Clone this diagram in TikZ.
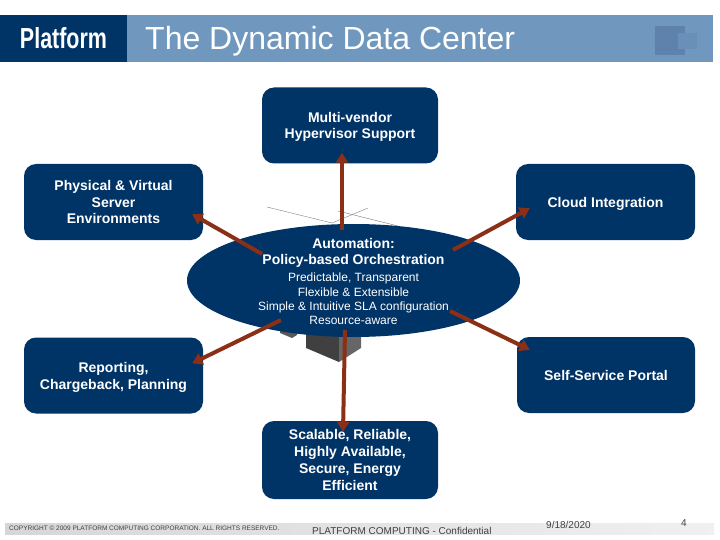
\documentclass[tikz,border=0pt]{standalone}
\usepackage{fontspec}
\setmainfont{Liberation Sans}
\usetikzlibrary{shapes.geometric, arrows.meta, positioning, calc}
\definecolor{platnavy}{HTML}{003366}
\definecolor{platbar}{HTML}{7098BE}
\definecolor{platarrow}{HTML}{8B3016}
\definecolor{platsquare}{HTML}{5E82AC}
\definecolor{platchip}{HTML}{6A90BA}
\newcommand{\nudge}[1]{\rule{0pt}{#1}}
\begin{document}
\begin{tikzpicture}[
    x=1pt, y=-1pt,
    feature/.style={rectangle, rounded corners=12pt, minimum width=179pt, minimum height=76pt, align=center, fill=platnavy, text=white, font=\fontsize{14}{16.7}\selectfont\bfseries},
    hub/.style={ellipse, minimum width=333pt, minimum height=113pt, inner sep=0pt, align=center, fill=platnavy, text=white},
    arrow/.style={-{Triangle[length=10pt, width=12pt]}, line width=4pt, draw=platarrow},
    footer/.style={font=\fontsize{10}{11}\selectfont, inner sep=0pt, text=black!75}
]
\useasboundingbox (0,0) rectangle (720,540);

% Header
\fill[platbar] (0,15) rectangle (713,62);
\node (logo) [rectangle, fill=platnavy, minimum width=127pt, minimum height=47pt, inner sep=0pt, text=white, font=\fontsize{29}{30}\selectfont\bfseries] at (63.5,38.5) {\scalebox{0.74}[1]{Platform}};
\node (title) [anchor=west, inner sep=0pt, text=white, font=\fontsize{32}{34}\selectfont] at (145,41) {The Dynamic Data Center};
\fill[platsquare] (655,26) rectangle (685,55);
\fill[platchip] (678,33) rectangle (697,49);

% Picture behind the hub
\draw[gray, thin] (267,207) -- (332,223) -- (368,208);
\draw[gray, thin] (338,211) -- (398,226);
\fill[black!75] (306,325) -- (306,348) -- (339,362) -- (339,325) -- cycle;
\fill[black!60] (339,325) -- (339,362) -- (361,348) -- (361,325) -- cycle;
\fill[black!65] (280,325) -- (280,333) -- (292,338) -- (297,335) -- (297,325) -- cycle;

% Nodes
\node (hub) [hub] at (353.5,280.5) {};
\node (auto) [font=\fontsize{14}{16.7}\selectfont\bfseries, text=white, align=center, inner sep=0pt] at (353.5,253) {Automation:\\Policy-based Orchestration};
\node (traits) [font=\fontsize{12}{14.3}\selectfont, text=white, align=center, inner sep=0pt, below=5pt of auto] {Predictable, Transparent\\Flexible \& Extensible\\Simple \& Intuitive SLA configuration\\Resource-aware};
\node (hyper) [feature, minimum width=176pt] at (350,125.5) {\nudge{13pt}Multi-vendor\\Hypervisor Support};
\node (virt) [feature] at (113.5,202) {Physical \& Virtual\\Server\\Environments};
\node (cloud) [feature] at (605.5,202) {\nudge{14pt}Cloud Integration};
\node (report) [feature] at (113.5,375.5) {\nudge{14pt}Reporting,\\Chargeback, Planning};
\node (portal) [feature, minimum width=178pt] at (606,375) {Self-Service Portal};
\node (scale) [feature, minimum width=176pt, minimum height=78pt] at (350,460) {Scalable, Reliable,\\Highly Available,\\Secure, Energy\\Efficient};

% Arrow ends inside the hub
\coordinate (hubN) at (342,230);
\coordinate (hubNW) at (262,254);
\coordinate (hubNE) at (453,250);
\coordinate (hubSW) at (281,320);
\coordinate (hubSE) at (450,311);
\coordinate (hubS) at (345,330);

% Arrows
\draw [arrow] (hubN) -- ($(hyper.south)+(-8,-11)$);
\draw [arrow] (hubNW) -- ($(virt.south east)+(-11,-26)$);
\draw [arrow] (hubNE) -- ($(cloud.south west)+(14,-32)$);
\draw [arrow] (hubSW) -- ($(report.north east)+(-11,26)$);
\draw [arrow] (hubSE) -- ($(portal.north west)+(13,13)$);
\draw [arrow] (hubS) -- ($(scale.north)+(-7,11)$);

% Footer
\shade[left color=black!16, right color=black!6] (5,523) rectangle (714,534);
\node (copy) [footer, anchor=west, font=\fontsize{6.5}{7}\selectfont] at (9,528) {COPYRIGHT © 2009 PLATFORM COMPUTING CORPORATION. ALL RIGHTS RESERVED.};
\node (conf) [footer, anchor=west] at (312,530.5) {PLATFORM COMPUTING - Confidential};
\node (date) [footer, anchor=west] at (546,525) {9/18/2020};
\node (page) [footer, anchor=center] at (684,523.5) {4};
\end{tikzpicture}
\end{document}
